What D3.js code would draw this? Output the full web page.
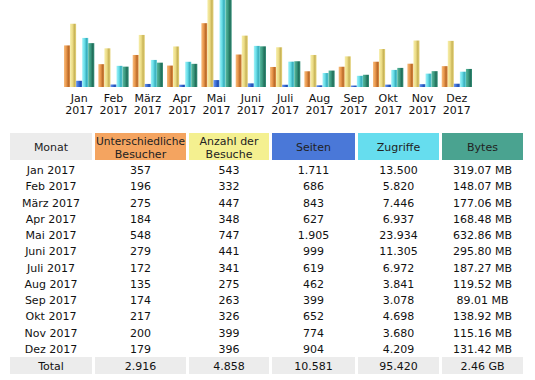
<!DOCTYPE html>
<html><head><meta charset="utf-8">
<script src="https://cdn.jsdelivr.net/npm/d3@7"></script>
<style>
html,body{margin:0;padding:0;background:#fff;}
svg{display:block;font-family:"DejaVu Sans",Verdana,sans-serif;}
</style></head>
<body>
<svg id="c" width="535" height="380"></svg>
<script>
const monthNames = ["Jan","Feb","März","Apr","Mai","Juni","Juli","Aug","Sep","Okt","Nov","Dez"];
const year = "2017";
const visitors = [357,196,275,184,548,279,172,135,174,217,200,179];
const visits   = [543,332,447,348,747,441,341,275,263,326,399,396];
const pages    = [1711,686,843,627,1905,999,619,462,399,652,774,904];
const hits     = [13500,5820,7446,6937,23934,11305,6972,3841,3078,4698,3680,4209];
const bytesMB  = [319.07,148.07,177.06,168.48,632.86,295.80,187.27,119.52,89.01,138.92,115.16,131.42];
const headers  = [["Monat"],["Unterschiedliche","Besucher"],["Anzahl der","Besuche"],["Seiten"],["Zugriffe"],["Bytes"]];
const totalLabel = "Total";

const colors = {u:"#f4a460", v:"#f4f090", p:"#4a78d8", h:"#66ddee", k:"#4aa390", gray:"#ececec"};
const barGrad = {
  u:["#f7bd7e","#e8954a","#b86a2a","#e39048"],
  v:["#f6eeaa","#ecdc86","#c8b458","#e6d47c"],
  p:["#6a96ee","#3d6fd8","#1f4fb0","#3b6bd2"],
  h:["#a2f2f8","#66dde8","#3aaebc","#5ed2dc"],
  k:["#5ab89e","#3a9a80","#226e5a","#35917a"]
};

const svg = d3.select("#c");
const defs = svg.append("defs");
Object.entries(barGrad).forEach(([k,c])=>{
  const g = defs.append("linearGradient").attr("id","g"+k).attr("x1","0").attr("x2","1").attr("y1","0").attr("y2","0");
  [[0,c[0]],[0.4,c[1]],[0.72,c[2]],[1,c[3]]].forEach(([o,col])=>g.append("stop").attr("offset",o).attr("stop-color",col));
});

// ---- bar chart ----
const baseY = 87, topY = 0;
const x = d3.scaleBand().domain(d3.range(12)).range([64, 64+34*12]).paddingInner(4/34).paddingOuter(0);
const xs = d3.scaleBand().domain(["u","v","p","h","k"]).range([0, x.bandwidth()]);
const yVis = d3.scaleLinear().domain([0, d3.max(visits)]).range([baseY, topY]);
const yHit = d3.scaleLinear().domain([0, d3.max(hits)]).range([baseY, topY]);
const yByt = d3.scaleLinear().domain([0, d3.max(bytesMB)]).range([baseY, topY]);
const series = [
  {k:"u", vals:visitors, y:yVis},
  {k:"v", vals:visits, y:yVis},
  {k:"p", vals:pages, y:yHit},
  {k:"h", vals:hits, y:yHit},
  {k:"k", vals:bytesMB, y:yByt}
];
const gBars = svg.append("g");
series.forEach(s=>{
  gBars.selectAll(null).data(s.vals).enter().append("rect")
    .attr("x",(d,i)=>x(i)+xs(s.k))
    .attr("width",xs.bandwidth())
    .attr("y",d=>s.y(d))
    .attr("height",d=>baseY - s.y(d))
    .attr("fill","url(#g"+s.k+")");
});
const gLab = svg.append("g").attr("font-size",11).attr("fill","#111").attr("text-anchor","middle");
gLab.selectAll(null).data(monthNames).enter().append("text")
  .attr("x",(d,i)=>x(i)+x.bandwidth()/2).attr("y",102).text(d=>d);
gLab.selectAll(null).data(monthNames).enter().append("text")
  .attr("x",(d,i)=>x(i)+x.bandwidth()/2).attr("y",114).text(year);

// ---- table ----
const fmtInt = d3.formatLocale({decimal:",",thousands:".",grouping:[3],currency:["",""]}).format(",d");
const fmtMB = d=>d3.format(".2f")(d)+" MB";
const colEdges = [[10,92],[95,186],[189,269],[272,355],[358,439],[442,523]];
const headFill = [colors.gray, colors.u, colors.v, colors.p, colors.h, colors.k];
const tbl = svg.append("g").attr("font-size",11).attr("fill","#111");
const hdr = tbl.append("g");
colEdges.forEach((e,i)=>{
  hdr.append("rect").attr("x",e[0]).attr("y",133).attr("width",e[1]-e[0]).attr("height",27).attr("fill",headFill[i]);
  const lines = headers[i];
  const cx=(e[0]+e[1])/2;
  lines.forEach((t,j)=>{
    const tx = hdr.append("text").attr("x",cx).attr("text-anchor","middle")
      .attr("y", lines.length===1 ? 151 : 145+j*13).attr("fill","#222").text(t);
    if (t.length > 14) tx.attr("textLength", 89).attr("lengthAdjust","spacingAndGlyphs");
  });
});
const rowY = d3.scalePoint().domain(d3.range(12)).range([170, 349]);
const rows = monthNames.map((m,i)=>[m+" "+year, fmtInt(visitors[i]), fmtInt(visits[i]), fmtInt(pages[i]), fmtInt(hits[i]), fmtMB(bytesMB[i])]);
rows.forEach((r,i)=>{
  r.forEach((t,j)=>{
    tbl.append("text").attr("x",(colEdges[j][0]+colEdges[j][1])/2).attr("y",rowY(i)).attr("dy","0.36em")
      .attr("text-anchor","middle").text(t);
  });
});
const totalBytes = d3.sum(bytesMB)/1024;
const totals = [totalLabel, fmtInt(d3.sum(visitors)), fmtInt(d3.sum(visits)), fmtInt(d3.sum(pages)), fmtInt(d3.sum(hits)), d3.format(".2f")(totalBytes)+" GB"];
colEdges.forEach((e,j)=>{
  tbl.append("rect").attr("x",e[0]).attr("y",357).attr("width",e[1]-e[0]).attr("height",17).attr("fill",colors.gray);
  tbl.append("text").attr("x",(e[0]+e[1])/2).attr("y",366).attr("dy","0.36em").attr("text-anchor","middle").text(totals[j]);
});
</script>
</body></html>
